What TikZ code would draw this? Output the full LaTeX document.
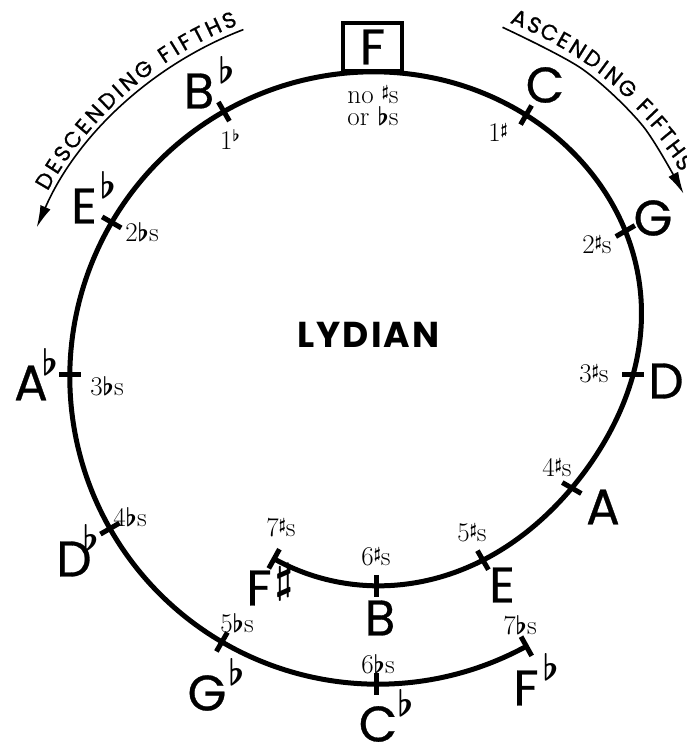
\documentclass[tikz,border=0pt]{standalone}
\usepackage{fontspec}
\usetikzlibrary{calc,arrows.meta}
\newfontfamily\notefont{Poppins}[FakeBold=0.6]
\newfontfamily\arcfont{Poppins}[FakeBold=1]
\newfontfamily\titlefont{Poppins}[LetterSpace=6]
% flat / sharp attached to note names
\newcommand\fl[1][0pt]{\rlap{\smash{\kern#1\raisebox{25pt}{\resizebox*{!}{27pt}{\boldmath$\flat$}}}}}
\newcommand\shp{\rlap{\smash{\kern3pt\raisebox{13pt}{\resizebox*{!}{37pt}{\boldmath$\sharp$}}}}}
% flat / sharp inside the small counts
\newcommand\sfl{\resizebox*{!}{19pt}{\boldmath$\flat$}}
\newcommand\ssh{\raisebox{7pt}{\resizebox*{!}{14pt}{\boldmath$\sharp$}}}
\newcommand\supfl{\raisebox{8pt}{\resizebox*{!}{12pt}{\boldmath$\flat$}}}
\tikzset{
  curve/.style={line width=5pt, line join=round},
  tickmark/.style={line width=5pt},
  note/.style={font=\notefont\fontsize{50}{50}\selectfont, inner sep=0pt},
  cnt/.style={font=\fontsize{27}{27}\selectfont, inner sep=0pt},
  arcletter/.style={font=\arcfont\fontsize{22}{22}\selectfont, inner sep=0pt},
  arrowline/.style={line width=1.6pt, -{Latex[length=22pt,width=11pt]}}
}
\begin{document}
\begin{tikzpicture}[x=1pt,y=1pt,
  declare function={rr(\t)=(\t<90)*(257+47*tanh(\t/38))+(\t>=90)*(303.2+7*(\t-90)/210);}]
\useasboundingbox (-376,-368) rectangle (310,375);
\coordinate (O) at (0,0);
% points on the spiral
\coordinate (Fs) at (-119:{rr(-119)});
\coordinate (B) at (-90:{rr(-90)});
\coordinate (E) at (-60:{rr(-60)});
\coordinate (A) at (-30:{rr(-30)});
\coordinate (D) at (0:{rr(0)});
\coordinate (G) at (30:{rr(30)});
\coordinate (C) at (60:{rr(60)});
\coordinate (F) at (90:{rr(90)});
\coordinate (Bb) at (120:{rr(120)});
\coordinate (Eb) at (150:{rr(150)});
\coordinate (Ab) at (180:{rr(180)});
\coordinate (Db) at (210:{rr(210)});
\coordinate (Gb) at (240:{rr(240)});
\coordinate (Cb) at (270:{rr(270)});
\coordinate (Fb) at (299:{rr(299)});
\draw[curve] plot[domain=-119:299, samples=419] (\x:{rr(\x)});
\foreach \p in {Fs,B,E,A,D,G,C,Bb,Eb,Ab,Db,Gb,Cb,Fb}
  \draw[tickmark] ($(\p)!11pt!(O)$) -- ($(\p)!-11pt!(O)$);
% F box
\node[draw, line width=4pt, minimum width=59pt, minimum height=48pt, inner sep=0pt, font=\notefont\fontsize{50}{50}\selectfont] (Fbox) at (-3.5,328) {F};
% note names
\node[note] (lC) at (169,290) {C};
\node[note] (lG) at (277,157) {G};
\node[note] (lD) at (290,-6) {D};
\node[note] (lA) at (227,-132) {A};
\node[note] (lE) at (126,-210) {E};
\node[note] (lB) at (4,-243) {B};
\node[note] (lFs) at (-117,-213) {F\shp};
\node[note] (lFb) at (150,-313) {F\fl[4pt]};
\node[note] (lCb) at (2,-349) {C\fl[0pt]};
\node[note] (lGb) at (-169,-318) {G\fl[2pt]};
\node[note] (lDb) at (-302,-184) {D\fl[-9pt]};
\node[note] (lAb) at (-345,-8) {A\fl[-6pt]};
\node[note] (lEb) at (-292,169) {E\fl[3pt]};
\node[note] (lBb) at (-177,284) {B\fl[4pt]};
% counts
\node[cnt] (n0a) at (-3,280) {no \ssh s};
\node[cnt] (n0b) at (-3,259) {or \sfl s};
\node[cnt] (f1) at (-146,235) {1\supfl};
\node[cnt] (f2) at (-234,143) {2\sfl s};
\node[cnt] (f3) at (-269,-11) {3\sfl s};
\node[cnt] (f4) at (-246,-142) {4\sfl s};
\node[cnt] (f5) at (-139,-248) {5\sfl s};
\node[cnt] (f6) at (2,-289) {6\sfl s};
\node[cnt] (f7) at (144,-250) {7\sfl s};
\node[cnt] (s1) at (122,242) {1\ssh};
\node[cnt] (s2) at (221,130) {2\ssh s};
\node[cnt] (s3) at (218,1) {3\ssh s};
\node[cnt] (s4) at (181,-93) {4\ssh s};
\node[cnt] (s5) at (96,-158) {5\ssh s};
\node[cnt] (s6) at (0,-182) {6\ssh s};
\node[cnt] (s7) at (-95,-153) {7\ssh s};
% title
\node[font=\titlefont\bfseries\fontsize{36}{36}\selectfont, inner sep=0pt] (title) at (-7.5,40.5) {LYDIAN};
% direction arrows
\coordinate (d1) at (111:370);
\draw[arrowline] (d1) arc[start angle=111, end angle=156.5, radius=370];
\foreach \a/\r/\c [count=\i] in {149.6/384/D, 147.08/384/E, 144.77/384/S, 142.2/384/C, 139.68/384/E, 137.14/384/N, 134.33/384/D, 132.26/384/I, 130.15/384/N, 127.28/384/G, 123.4/384/F, 121.62/384/I, 119.84/384/F, 117.6/384/T, 115.07/384/H, 112.5/384/S}
  \node[arcletter, rotate=\a-90] (dtx\i) at (\a:\r) {\c};
\coordinate (a1) at (70:370);
\coordinate (a2) at (56:369);
\coordinate (a3) at (43:365);
\coordinate (a4) at (30.5:357);
\draw[arrowline] plot[smooth] coordinates {(a1) (a2) (a3) (a4)};
\foreach \a/\r/\c [count=\i] in {68.1/384.4/A, 65.64/384.2/S, 63.16/384/C, 60.72/383.8/E, 58.26/383.7/N, 55.54/383.4/D, 53.55/382.8/I, 51.53/382.1/N, 48.75/381.3/G, 45.04/380.1/F, 43.35/379.6/I, 41.67/378.7/F, 39.52/377.3/T, 37.07/375.7/H, 34.59/374.1/S}
  \node[arcletter, rotate=\a-90] (atx\i) at (\a:\r) {\c};
\end{tikzpicture}
\end{document}
